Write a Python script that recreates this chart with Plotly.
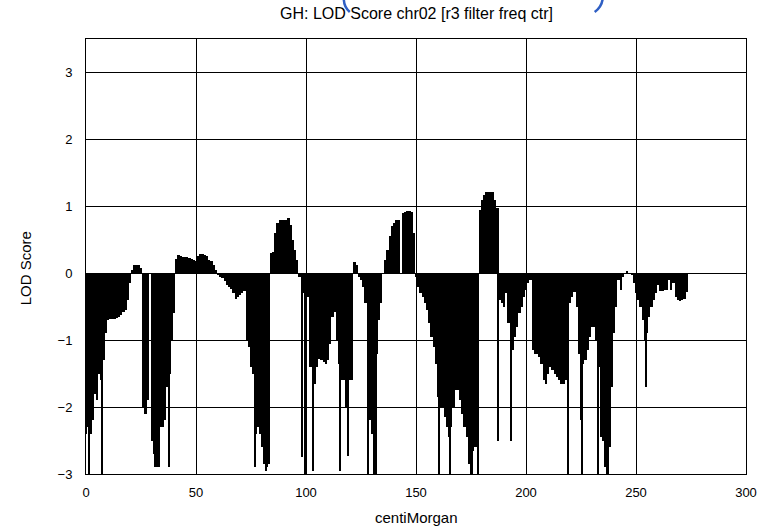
import plotly.graph_objects as go

# LOD score profile, one value per centiMorgan (0..273); None = missing
cm_positions = list(range(0, 274))
lod_values = [
    -2.4, -2.3, -2.4, -2.2, -1.8, -1.9, -1.5, -1.6, -1.3, -0.9,
    -0.7, -0.68, -0.68, -0.68, -0.67, -0.66, -0.62, -0.58, -0.55, -0.4,
    -0.15, 0.05, 0.12, 0.12, 0.12, 0.08, -2.0, -2.1, -1.9, None,
    -2.5, -2.7, -2.9, -2.9, -2.3, -2.3, -2.2, -1.7, -1.5, -1.0,
    -0.6, 0.22, 0.27, 0.26, 0.25, 0.25, 0.24, 0.23, 0.22, 0.2,
    0.18, 0.26, 0.28, 0.28, 0.27, 0.26, 0.2, 0.18, 0.12, 0.05,
    -0.03, -0.05, -0.07, -0.12, -0.17, -0.2, -0.24, -0.3, -0.38, -0.35,
    -0.32, -0.3, -0.27, -1.0, -1.1, -1.4, -1.5, -2.4, -2.3, -2.4,
    -2.6, -2.85, -2.9, -2.85, 0.3, 0.32, 0.6, 0.75, 0.8, 0.8,
    0.8, 0.8, 0.82, 0.72, 0.5, 0.35, 0.2, -0.05, -1.95, -0.3,
    -0.35, -0.35, -1.4, -2.15, -1.65, -1.4, -1.28, -1.3, -1.33, -1.35,
    -1.3, -1.05, -0.65, -0.58, -1.0, -1.35, -1.6, -1.6, -2.0, -2.05,
    -1.6, -1.6, 0.17, 0.12, -0.05, -0.1, -0.2, -0.45, -0.8, -2.2,
    -2.4, -3.0, -1.2, -0.7, -0.45, 0.0, 0.2, 0.35, 0.55, 0.7,
    0.75, 0.8, 0.8, None, 0.9, 0.92, 0.93, 0.93, 0.92, 0.6,
    -0.05, -0.2, -0.3, -0.35, -0.45, -0.55, -0.75, -0.95, -1.1, -1.35,
    -1.85, -2.0, -2.0, -2.15, -2.3, -2.45, -2.3, -2.0, -1.75, -1.75,
    -1.9, -2.1, -2.3, -2.45, -2.85, -3.0, -2.65, -2.6, -2.35, 0.95,
    1.1, 1.17, 1.22, 1.22, 1.22, 1.22, 1.1, 0.98, -0.4, -0.45,
    -0.5, -0.3, -0.75, -1.3, -1.15, -0.95, -0.8, -0.6, -0.5, -0.35,
    -0.25, -0.15, -0.1, -1.15, -1.2, -1.2, -1.25, -1.35, -1.6, -1.65,
    -1.5, -1.4, -1.45, -1.5, -1.55, -1.6, -1.65, -1.65, -1.6, -0.5,
    -0.45, -0.35, -0.28, -0.5, -1.2, -2.2, -1.35, -1.3, -1.15, -0.95,
    -0.8, -0.8, -1.0, -1.4, -2.45, -2.5, -2.9, -3.0, -2.6, -1.7,
    -0.9, -0.5, -0.1, -0.25, -0.05, 0.0, 0.03, 0.0, -0.02, -0.15,
    -0.3, -0.4, -0.5, -0.7, -1.0, -0.9, -0.65, -0.5, -0.4, -0.3,
    -0.17, -0.27, -0.27, -0.25, -0.25, -0.1, -0.25, -0.15, -0.35, -0.4,
    -0.42, -0.4, -0.38, -0.28,
]

# Isolated single-marker impulses
spike_cm = [1.5, 7.3, 31.3, 37.8, 76.8, 81.8, 98.3, 99.7, 103.3, 115.6,
            119.3, 128.4, 131.8, 160.7, 165.6, 175.6, 178.4, 187.5, 193.3,
            218.9, 225.6, 232.7, 236.7, 254.5]
spike_lod = [-3.0, -3.0, -2.9, -2.9, -2.9, -2.95, -2.75, -3.0, -2.95, -2.95,
             -2.73, -3.0, -3.0, -3.0, -3.0, -3.0, -3.0, -2.5, -2.5,
             -3.0, -3.0, -3.0, -3.0, -1.7]

x_ticks = [0, 50, 100, 150, 200, 250, 300]
y_ticks = [-3, -2, -1, 0, 1, 2, 3]

title_text = "GH: LOD Score chr02 [r3 filter freq ctr]"
x_title = "centiMorgan"
y_title = "LOD Score"

FONT = "Liberation Sans, Arial, sans-serif"

fig = go.Figure()
fig.add_trace(go.Bar(
    x=cm_positions, y=lod_values, width=1.0,
    marker=dict(color="black", line=dict(width=0)),
    showlegend=False, hoverinfo="skip",
))
fig.add_trace(go.Bar(
    x=spike_cm, y=spike_lod, width=0.5,
    marker=dict(color="black", line=dict(width=0)),
    showlegend=False, hoverinfo="skip",
))

W, H = 769, 530
ML, MR, MT, MB = 86, 20, 39, 56
PW, PH = W - ML - MR, H - MT - MB


def px_x(px):
    return (px - ML) / PW


def px_y(py):
    return (H - MB - py) / PH


fig.update_layout(
    width=W, height=H,
    margin=dict(l=ML, r=MR, t=MT, b=MB),
    paper_bgcolor="white", plot_bgcolor="white",
    barmode="overlay", bargap=0,
    font=dict(family=FONT, size=13, color="black"),
    showlegend=False,
    xaxis=dict(
        range=[0, 300], tickmode="array", tickvals=x_ticks,
        showgrid=True, gridcolor="black", gridwidth=1,
        showline=True, linecolor="black", linewidth=1, mirror=True,
        zeroline=False, ticks="", ticklabelstandoff=6,
        tickfont=dict(family=FONT, size=13, color="black"),
    ),
    yaxis=dict(
        range=[-3, 3.5], tickmode="array", tickvals=y_ticks,
        showgrid=True, gridcolor="black", gridwidth=1,
        showline=True, linecolor="black", linewidth=1, mirror=True,
        zeroline=True, zerolinecolor="black", zerolinewidth=1,
        ticks="", ticklabelstandoff=10,
        tickfont=dict(family=FONT, size=13, color="black"),
    ),
    annotations=[
        dict(text=title_text, xref="paper", yref="paper",
             x=0.5, y=px_y(13), xanchor="center", yanchor="middle",
             showarrow=False, font=dict(family=FONT, size=16, color="black")),
        dict(text=x_title, xref="paper", yref="paper",
             x=0.5, y=px_y(517), xanchor="center", yanchor="middle",
             showarrow=False, font=dict(family=FONT, size=15, color="black")),
        dict(text=y_title, xref="paper", yref="paper", textangle=-90,
             x=px_x(25), y=px_y(268), xanchor="center", yanchor="middle",
             showarrow=False, font=dict(family=FONT, size=15, color="black")),
    ],
    shapes=[
        dict(type="path", xref="paper", yref="paper",
             path=f"M {px_x(345)},{px_y(-1)} Q {px_x(345)},{px_y(7)} {px_x(351)},{px_y(12)}",
             line=dict(color="#2f5fc4", width=2.5)),
        dict(type="path", xref="paper", yref="paper",
             path=f"M {px_x(605)},{px_y(-1)} Q {px_x(604)},{px_y(7)} {px_x(597)},{px_y(12)}",
             line=dict(color="#2f5fc4", width=2.5)),
    ],
)

fig.write_html(
    "out.html",
    config={"displayModeBar": False},
    post_script="document.body.style.margin='0px';",
)
